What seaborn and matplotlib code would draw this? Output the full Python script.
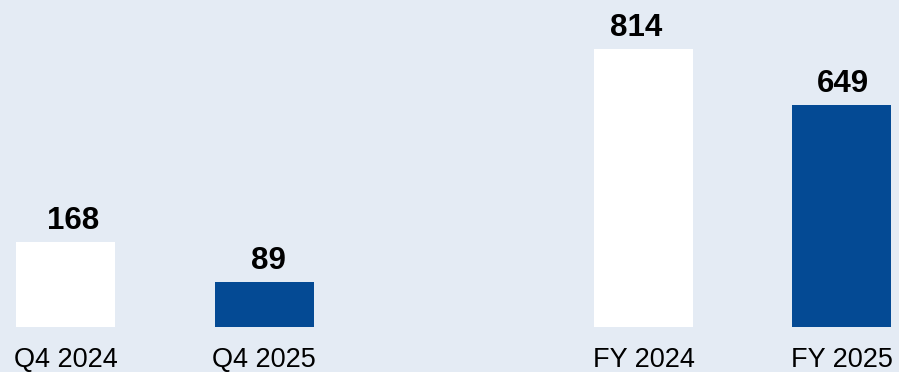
import matplotlib
matplotlib.use("Agg")
import matplotlib.pyplot as plt
import seaborn as sns
import pandas as pd

sns.set_theme(style="white")
plt.rcParams['font.family'] = ['Liberation Sans', 'DejaVu Sans']

q_labels = ["Q4 2024", "Q4 2025"]
q_values = [168, 89]
fy_labels = ["FY 2024", "FY 2025"]
fy_values = [814, 649]

bg = "#e4ebf4"
colors = ["#ffffff", "#044a94"]

W, H = 899, 372
fig = plt.figure(figsize=(W / 100, H / 100), dpi=100)
fig.patch.set_facecolor(bg)

base_y = 327

def panel(x0, x1, labels, values, ymax, label_dx):
    ax = fig.add_axes([x0 / W, (H - base_y) / H, (x1 - x0) / W, base_y / H])
    df = pd.DataFrame({"cat": labels, "val": values})
    sns.barplot(data=df, x="cat", y="val", hue="cat", palette=colors,
                width=0.5, ax=ax, legend=False, saturation=1, linewidth=0)
    ax.set_xlim(-0.25, 1.25)
    ax.set_ylim(0, ymax)
    ax.set_facecolor("none")
    for s in ax.spines.values():
        s.set_visible(False)
    ax.set_yticks([])
    ax.set_xlabel("")
    ax.set_ylabel("")
    ax.tick_params(axis="x", length=0, pad=14.5, labelsize=19.5, labelcolor="#000000")
    texts = []
    for c in ax.containers:
        texts += ax.bar_label(c, fmt="%d", padding=4.5, fontsize=22.5,
                              fontweight="bold", color="#000000")
    for t, dx in zip(texts, label_dx):
        t.xyann = (dx * 0.72, t.xyann[1])
    return ax

panel(16, 314, q_labels, q_values, 327 / 0.506, [7, 4])
panel(594, 891, fy_labels, fy_values, 327 / 0.3418, [-7.5, 1.5])

fig.savefig("out.png", dpi=100, facecolor=bg)
